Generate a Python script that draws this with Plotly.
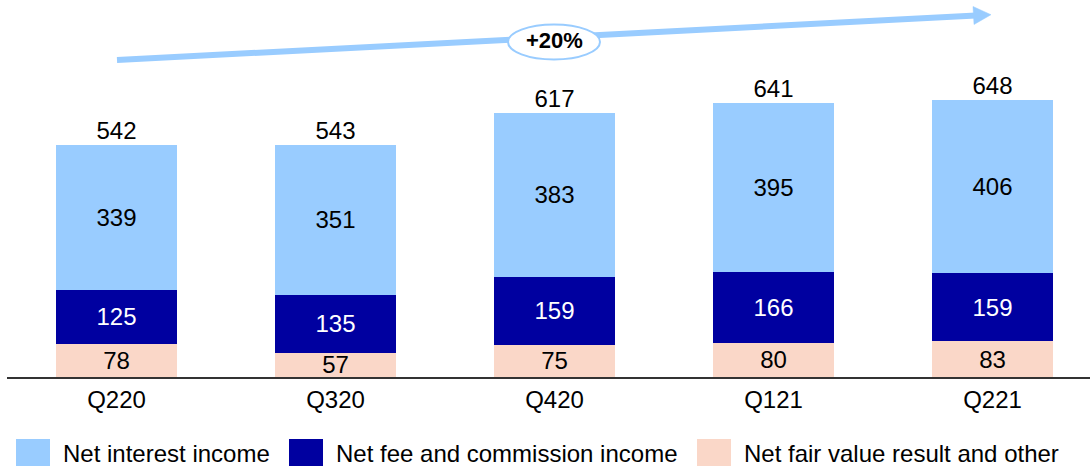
import plotly.graph_objects as go

categories = ["Q220", "Q320", "Q420", "Q121", "Q221"]
net_interest = [339, 351, 383, 395, 406]
net_fee = [125, 135, 159, 166, 159]
net_fair = [78, 57, 75, 80, 83]
totals = [542, 543, 617, 641, 648]
growth_label = "+20%"

series = [
    ("Net fair value result and other", net_fair, "#FAD7C8", "#000000"),
    ("Net fee and commission income", net_fee, "#0000A0", "#FFFFFF"),
    ("Net interest income", net_interest, "#99CCFF", "#000000"),
]

FONT = "Liberation Sans, Arial, sans-serif"
FS = 24
W, H = 1090, 466
ML, MR, MT, MB = 7, 0, 0, 89
YMAX = 881
ARROW = "#99CCFF"

fig = go.Figure()
for name, vals, color, tcolor in series:
    fig.add_trace(go.Bar(
        x=categories, y=vals, name=name,
        marker=dict(color=color, line=dict(width=0)),
        text=[str(v) for v in vals], textposition="inside",
        insidetextanchor="middle", textangle=0,
        textfont=dict(family=FONT, size=FS, color=tcolor),
        hoverinfo="skip", showlegend=False,
    ))

fig.add_trace(go.Scatter(
    x=categories, y=totals, mode="text",
    text=[str(t) for t in totals], textposition="top center",
    textfont=dict(family=FONT, size=FS, color="#000000"),
    hoverinfo="skip", showlegend=False,
))

plot_h = H - MT - MB
plot_w = W - ML - MR
def py(px):
    return (plot_h - (px - MT)) / plot_h
def pxx(px):
    return (px - ML) / plot_w

# growth arrow (shaft + head), then ellipse on top
fig.add_shape(
    type="line", xref="paper", yref="paper",
    x0=pxx(117), y0=py(60), x1=pxx(976), y1=py(15.5),
    line=dict(color=ARROW, width=6),
)
head = "M {} {} L {} {} L {} {} Z".format(
    pxx(973), py(6.5), pxx(991), py(14.7), pxx(974), py(24.5))
fig.add_shape(
    type="path", xref="paper", yref="paper", path=head,
    fillcolor=ARROW, line=dict(color=ARROW, width=0.5),
)
fig.add_shape(
    type="circle", xref="paper", yref="paper",
    x0=pxx(508), x1=pxx(600), y0=py(59.5), y1=py(24.5),
    fillcolor="#FFFFFF", line=dict(color=ARROW, width=2),
)
fig.add_annotation(
    x=pxx(554), y=py(40.5), xref="paper", yref="paper",
    xanchor="center", yanchor="middle",
    text="<b>" + growth_label + "</b>", showarrow=False,
    font=dict(family=FONT, size=22, color="#000000"),
)

# legend
legend_items = [
    ("Net interest income", "#99CCFF", 16),
    ("Net fee and commission income", "#0000A0", 289),
    ("Net fair value result and other", "#FAD7C8", 697),
]
for name, color, x0 in legend_items:
    fig.add_shape(
        type="rect", xref="paper", yref="paper",
        x0=pxx(x0), x1=pxx(x0 + 34), y0=py(466), y1=py(439),
        fillcolor=color, line=dict(width=0),
    )
    fig.add_annotation(
        x=pxx(x0 + 45), y=py(453), xref="paper", yref="paper",
        xanchor="left", yanchor="middle", text=name, showarrow=False,
        font=dict(family=FONT, size=FS, color="#000000"),
    )

fig.update_layout(
    width=W, height=H,
    margin=dict(l=ML, r=MR, t=MT, b=MB),
    paper_bgcolor="#FFFFFF", plot_bgcolor="#FFFFFF",
    barmode="stack", bargap=0.447,
    uniformtext=dict(minsize=FS, mode="show"),
    font=dict(family=FONT, size=FS, color="#000000"),
    xaxis=dict(
        range=[-0.5, 4.445], showgrid=False, zeroline=False,
        showline=True, linecolor="#333333", linewidth=2,
        ticks="", ticklen=0,
        tickfont=dict(family=FONT, size=FS, color="#000000"),
        fixedrange=True,
    ),
    yaxis=dict(
        range=[0, YMAX], visible=False, showgrid=False, zeroline=False,
        fixedrange=True,
    ),
    showlegend=False,
)

fig.write_html(
    "out.html",
    config={"displayModeBar": False},
    post_script="document.body.style.margin='0px';document.body.style.overflow='hidden';",
)
